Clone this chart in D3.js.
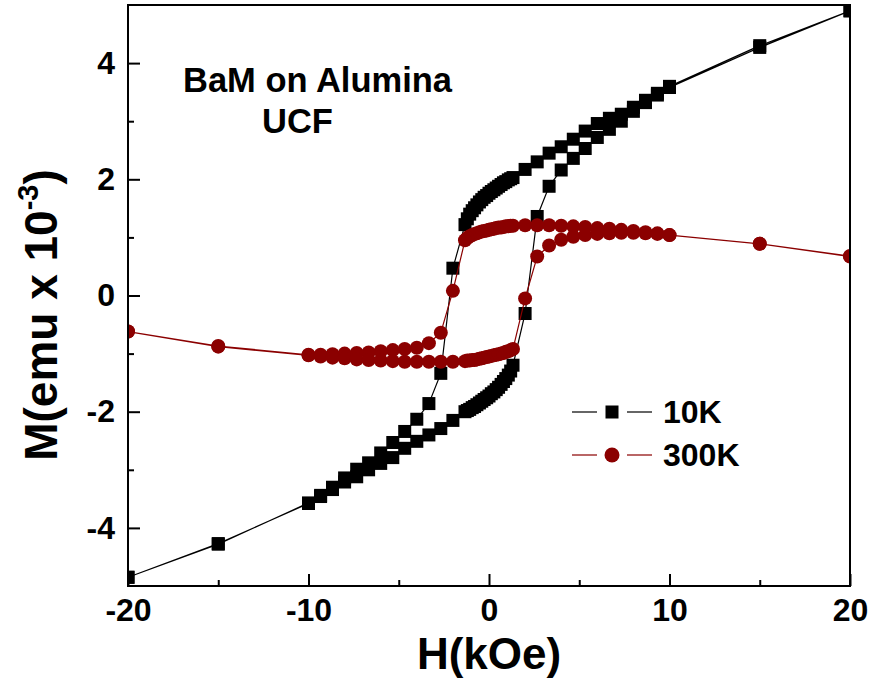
<!DOCTYPE html>
<html>
<head>
<meta charset="utf-8">
<script src="https://cdn.jsdelivr.net/npm/d3@7"></script>
<style>
  html, body { margin: 0; padding: 0; background: #fff; }
  svg { display: block; }
  text { font-family: "Liberation Sans", Arial, sans-serif; font-weight: bold; fill: #000; }
</style>
</head>
<body>
<svg id="chart" width="873" height="690"></svg>
<script>
// Applied field H (kOe), sweep from +20 down to -20
const fieldDown = [20, 15, 10, 9.33, 8.67, 8, 7.33, 6.67, 6, 5.33, 4.67, 4, 3.33, 2.67, 2,
  1.33, 1.2, 1.07, 0.93, 0.8, 0.67, 0.53, 0.4, 0.27, 0.13, 0, -0.13, -0.27, -0.4, -0.53,
  -0.67, -0.8, -0.93, -1.07, -1.2, -1.33,
  -2, -2.67, -3.33, -4, -4.67, -5.33, -6, -6.67, -7.33, -8, -8.67, -9.33, -10, -15, -20];
// Return sweep from -20 back up to +20
const fieldUp = [-20, -15, -10, -9.33, -8.67, -8, -7.33, -6.67, -6, -5.33, -4.67, -4, -3.33, -2.67, -2,
  -1.33, -1.2, -1.07, -0.93, -0.8, -0.67, -0.53, -0.4, -0.27, -0.13, 0, 0.13, 0.27, 0.4, 0.53,
  0.67, 0.8, 0.93, 1.07, 1.2, 1.33,
  2, 2.67, 3.33, 4, 4.67, 5.33, 6, 6.67, 7.33, 8, 8.67, 9.33, 10, 15, 20];

// Magnetization M (emu x 10^-3) at 10 K
const m10Down = [4.90, 4.30, 3.60, 3.48, 3.36, 3.24, 3.12, 3.05, 2.96, 2.83, 2.69, 2.56, 2.45, 2.30, 2.17,
  2.03, 2.01, 1.99, 1.96, 1.94, 1.91, 1.88, 1.85, 1.82, 1.79, 1.76, 1.72, 1.69, 1.65, 1.61,
  1.56, 1.51, 1.46, 1.40, 1.32, 1.22,
  0.47, -1.34, -1.86, -2.13, -2.34, -2.53, -2.71, -2.88, -2.99, -3.14, -3.30, -3.44, -3.57, -4.28, -4.85];
const m10Up = [-4.85, -4.27, -3.58, -3.46, -3.34, -3.21, -3.12, -3.00, -2.89, -2.79, -2.63, -2.51, -2.40, -2.29, -2.15,
  -2.00, -1.98, -1.96, -1.93, -1.91, -1.88, -1.85, -1.82, -1.79, -1.76, -1.73, -1.69, -1.66, -1.62, -1.58,
  -1.53, -1.48, -1.43, -1.37, -1.30, -1.20,
  -0.31, 1.36, 1.88, 2.16, 2.36, 2.53, 2.72, 2.86, 3.00, 3.17, 3.32, 3.45, 3.58, 4.27, 4.90];

// Magnetization M (emu x 10^-3) at 300 K
const m300Down = [0.68, 0.89, 1.04, 1.07, 1.09, 1.11, 1.13, 1.15, 1.16, 1.18, 1.19, 1.20, 1.21, 1.21, 1.21,
  1.20, 1.20, 1.19, 1.19, 1.18, 1.17, 1.17, 1.16, 1.15, 1.14, 1.13, 1.12, 1.11, 1.10, 1.09,
  1.07, 1.06, 1.04, 1.02, 0.99, 0.95,
  0.08, -0.64, -0.82, -0.90, -0.92, -0.94, -0.96, -0.98, -0.99, -1.00, -1.01, -1.02, -1.02, -0.87, -0.62];
const m300Up = [-0.62, -0.88, -1.03, -1.05, -1.07, -1.08, -1.10, -1.11, -1.12, -1.13, -1.14, -1.14, -1.14, -1.14, -1.14,
  -1.13, -1.12, -1.12, -1.11, -1.11, -1.10, -1.09, -1.08, -1.07, -1.06, -1.05, -1.04, -1.03, -1.02, -1.01,
  -1.00, -0.99, -0.97, -0.96, -0.94, -0.92,
  -0.05, 0.67, 0.86, 0.96, 1.01, 1.04, 1.06, 1.07, 1.08, 1.08, 1.07, 1.06, 1.04, 0.89, 0.67];

const xMajor = [-20, -10, 0, 10, 20];
const xMinor = [-15, -5, 5, 15];
const yMajor = [-4, -2, 0, 2, 4];
const yMinor = [-3, -1, 1, 3];

const seriesNames = ["10K", "300K"];
const seriesColors = ["#000000", "#8b0000"];

const W = 873, H = 690;
const margin = { left: 128, right: 23, top: 5, bottom: 104 };
const svg = d3.select("#chart");

const x = d3.scaleLinear().domain([-20, 20]).range([margin.left, W - margin.right]);
const y = d3.scaleLinear().domain([-5, 5]).range([H - margin.bottom, margin.top]);

svg.append("defs").append("clipPath").attr("id", "plotClip")
  .append("rect")
  .attr("x", x(-20)).attr("y", y(5))
  .attr("width", x(20) - x(-20)).attr("height", y(-5) - y(5));

// Build the loop for each temperature: down sweep followed by the return sweep
function loop(mDown, mUp) {
  const pts = fieldDown.map((h, i) => ({ h, m: mDown[i] }));
  return pts.concat(fieldUp.map((h, i) => ({ h, m: mUp[i] })));
}
const loops = [loop(m10Down, m10Up), loop(m300Down, m300Up)];

const line = d3.line().x(d => x(d.h)).y(d => y(d.m));
const plot = svg.append("g").attr("clip-path", "url(#plotClip)");

loops.forEach((pts, si) => {
  const g = plot.append("g");
  g.append("path").datum(pts)
    .attr("d", line)
    .attr("fill", "none")
    .attr("stroke", seriesColors[si])
    .attr("stroke-width", 1.2);
  if (si === 0) {
    g.selectAll("rect").data(pts).join("rect")
      .attr("x", d => x(d.h) - 6.5).attr("y", d => y(d.m) - 6.5)
      .attr("width", 13).attr("height", 13)
      .attr("fill", seriesColors[si]);
  } else {
    g.selectAll("circle").data(pts).join("circle")
      .attr("cx", d => x(d.h)).attr("cy", d => y(d.m))
      .attr("r", 7)
      .attr("fill", seriesColors[si]);
  }
});

// Axes with inward ticks
const tickFont = "32px";
svg.append("g").attr("transform", `translate(0,${y(-5)})`)
  .call(d3.axisBottom(x).tickValues(xMajor).tickSize(-12).tickPadding(12).tickFormat(d3.format("d")));
svg.append("g").attr("transform", `translate(0,${y(-5)})`)
  .call(d3.axisBottom(x).tickValues(xMinor).tickSize(-6).tickFormat(""));
svg.append("g").attr("transform", `translate(${x(-20)},0)`)
  .call(d3.axisLeft(y).tickValues(yMajor).tickSize(-12).tickPadding(13).tickFormat(d3.format("d")));
svg.append("g").attr("transform", `translate(${x(-20)},0)`)
  .call(d3.axisLeft(y).tickValues(yMinor).tickSize(-6).tickFormat(""));

svg.selectAll(".domain").remove();
svg.selectAll(".tick line").attr("stroke", "#000").attr("stroke-width", 2);
svg.selectAll(".tick text")
  .style("font-family", "'Liberation Sans', Arial, sans-serif")
  .style("font-weight", "bold")
  .style("font-size", tickFont)
  .attr("fill", "#000");
// Minus sign as a plain hyphen
svg.selectAll(".tick text").text(function() { return d3.select(this).text().replace("\u2212", "-"); });

// Frame
svg.append("rect")
  .attr("x", x(-20)).attr("y", y(5))
  .attr("width", x(20) - x(-20)).attr("height", y(-5) - y(5))
  .attr("fill", "none").attr("stroke", "#000").attr("stroke-width", 2);

// Axis titles
svg.append("text")
  .attr("x", x(0)).attr("y", 669)
  .attr("text-anchor", "middle")
  .style("font-size", "44px")
  .text("H(kOe)");

const yTitle = svg.append("text")
  .attr("transform", "translate(57,315) rotate(-90)")
  .attr("text-anchor", "middle")
  .style("font-size", "46px");
yTitle.append("tspan").text("M(emu x 10");
yTitle.append("tspan").attr("dy", -19).style("font-size", "29px").text("-3");
yTitle.append("tspan").attr("dy", 19).text(")");

// Sample annotation
svg.append("text").attr("x", 183).attr("y", 92).style("font-size", "34.5px").text("BaM on Alumina");
svg.append("text").attr("x", 262).attr("y", 133).style("font-size", "34.5px").text("UCF");

// Legend
const legendRows = [412, 455];
seriesNames.forEach((name, i) => {
  const g = svg.append("g");
  const cy = legendRows[i];
  g.append("line").attr("x1", 572).attr("x2", 597).attr("y1", cy).attr("y2", cy)
    .attr("stroke", seriesColors[i]).attr("stroke-width", 1.2);
  g.append("line").attr("x1", 627).attr("x2", 652).attr("y1", cy).attr("y2", cy)
    .attr("stroke", seriesColors[i]).attr("stroke-width", 1.2);
  if (i === 0) {
    g.append("rect").attr("x", 612 - 6.5).attr("y", cy - 6.5).attr("width", 13).attr("height", 13)
      .attr("fill", seriesColors[i]);
  } else {
    g.append("circle").attr("cx", 612).attr("cy", cy).attr("r", 7.5).attr("fill", seriesColors[i]);
  }
  g.append("text").attr("x", 663).attr("y", cy + 11).style("font-size", "32px").text(name);
});
</script>
</body>
</html>
